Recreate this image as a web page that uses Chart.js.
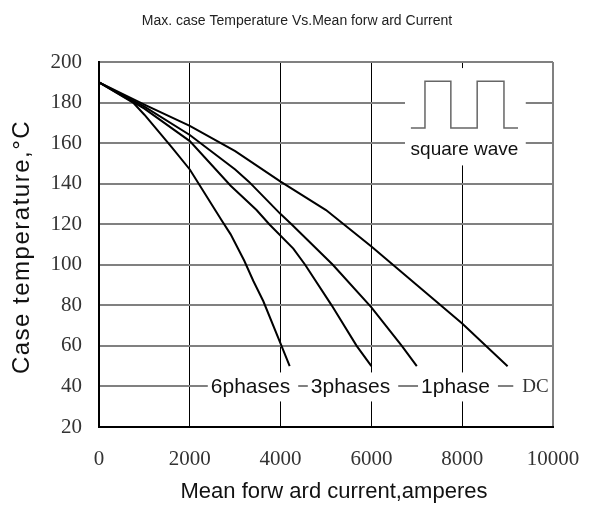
<!doctype html>
<html lang="en">
<head>
  <meta charset="utf-8">
  <title>Max. case Temperature Vs. Mean forward Current</title>
  <script src="https://cdn.jsdelivr.net/npm/chart.js@4"></script>
  <style>
    body { margin: 0; background: #fff; }
  </style>
</head>
<body>
  <canvas id="tempChart" width="595" height="509"></canvas>

  <script>
    // Curve data: mean forward current (A) vs max case temperature (C)
    var xDC  = [0, 1000, 2000, 3000, 4000, 5000, 6000, 7000, 8000, 9000];
    var tDC  = [190, 179, 168.5, 156, 141, 127, 109, 90, 71, 50];

    var x1ph = [0, 1000, 2000, 3000, 3300, 4000, 4240, 5150, 6000, 6670, 7000];
    var t1ph = [190, 178, 164, 147, 141, 125, 120, 100, 79, 60, 50];

    var x3ph = [0, 1000, 2000, 2900, 3470, 3750, 4280, 4540, 5125, 5675, 6000];
    var t3ph = [190, 177, 161, 139, 127, 120, 108, 100, 80, 60, 50];

    var x6ph = [0, 750, 1000, 1600, 2000, 2700, 2900, 3200, 3400, 3620, 4020, 4200];
    var t6ph = [190, 180, 174, 158, 147, 122, 115, 102, 92, 82, 60, 50];

    // square wave symbol in the top right corner
    var xWave = [6870, 7180, 7180, 7750, 7750, 8330, 8330, 8920, 8920, 9230];
    var tWave = [167.5, 167.5, 190.5, 190.5, 167.5, 167.5, 190.5, 190.5, 167.5, 167.5];

    // curve labels along the 40 C line
    var labelText = ['6phases', '3phases', '1phase', 'DC'];
    var labelX = [3337, 5540, 7852, 9614];
    var labelY = 40;

    var xTicks = [0, 2000, 4000, 6000, 8000, 10000];
    var yTicks = [20, 40, 60, 80, 100, 120, 140, 160, 180, 200];

    function toPoints(xs, ys) {
      var pts = [];
      for (var i = 0; i < xs.length; i++) pts.push({ x: xs[i], y: ys[i] });
      return pts;
    }

    function curve(label, xs, ys, color, width) {
      return {
        label: label,
        data: toPoints(xs, ys),
        showLine: true,
        borderColor: color,
        borderWidth: width,
        pointRadius: 0,
        tension: 0,
        fill: false
      };
    }

    // white patches over the grid, the labels and the titles
    var notesPlugin = {
      id: 'notes',
      beforeDatasetsDraw: function(chart) {
        var ctx = chart.ctx;
        var xs = chart.scales.x, ys = chart.scales.y;
        ctx.save();
        ctx.fillStyle = '#fff';

        // box behind the square wave
        var bx0 = xs.getPixelForValue(6740), bx1 = xs.getPixelForValue(9400);
        var by0 = ys.getPixelForValue(197), by1 = ys.getPixelForValue(149);
        ctx.fillRect(bx0, by0, bx1 - bx0, by1 - by0);

        // boxes behind the curve names
        var yc = ys.getPixelForValue(labelY) + 1;
        for (var i = 0; i < labelText.length; i++) {
          var isDC = labelText[i] == 'DC';
          ctx.font = isDC ? '19px "Liberation Serif", serif' : '21px "Liberation Sans", Arial, sans-serif';
          var w = ctx.measureText(labelText[i]).width;
          var cx = xs.getPixelForValue(labelX[i]);
          var left = cx - w / 2 - (isDC ? 9 : 3);
          var right = isDC ? chart.chartArea.right - 1 : cx + w / 2 + 8;
          ctx.fillRect(left, yc - 15, right - left, 29);
        }
        ctx.restore();
      },
      afterDatasetsDraw: function(chart) {
        var ctx = chart.ctx;
        var xs = chart.scales.x, ys = chart.scales.y;
        ctx.save();
        ctx.textAlign = 'center';
        ctx.textBaseline = 'middle';

        var yc = ys.getPixelForValue(labelY) + 1;
        for (var i = 0; i < labelText.length; i++) {
          if (labelText[i] == 'DC') {
            ctx.font = '19px "Liberation Serif", serif';
            ctx.fillStyle = '#333';
          } else {
            ctx.font = '21px "Liberation Sans", Arial, sans-serif';
            ctx.fillStyle = '#111';
          }
          ctx.fillText(labelText[i], xs.getPixelForValue(labelX[i]), yc);
        }

        ctx.fillStyle = '#111';
        ctx.font = '19px "Liberation Sans", Arial, sans-serif';
        ctx.fillText('square wave', xs.getPixelForValue(8050), ys.getPixelForValue(156.5));

        ctx.fillStyle = '#222';
        ctx.font = '14px "Liberation Sans", Arial, sans-serif';
        ctx.fillText('Max. case Temperature Vs.Mean forw ard Current', 297, 21);

        // x axis title sits a little right of the plot centre
        ctx.fillStyle = '#111';
        ctx.font = '22px "Liberation Sans", Arial, sans-serif';
        ctx.fillText('Mean forw ard current,amperes', 334, 492);

        // y axis title
        ctx.save();
        ctx.font = '24px "Liberation Sans", Arial, sans-serif';
        ctx.translate(22, 248);
        ctx.rotate(-Math.PI / 2);
        ctx.letterSpacing = '1.5px';
        ctx.fillText('Case temperature,°C', 1, 0);
        ctx.restore();

        ctx.restore();
      }
    };

    var chart = new Chart(document.getElementById('tempChart'), {
      type: 'scatter',
      data: {
        datasets: [
          curve('DC', xDC, tDC, '#000', 2),
          curve('1phase', x1ph, t1ph, '#000', 2),
          curve('3phases', x3ph, t3ph, '#000', 2),
          curve('6phases', x6ph, t6ph, '#000', 2),
          curve('square wave', xWave, tWave, '#666', 1.5)
        ]
      },
      options: {
        responsive: false,
        animation: false,
        layout: { padding: { top: 62, right: 42, left: 0, bottom: 0 } },
        plugins: {
          legend: { display: false },
          tooltip: { enabled: false }
        },
        scales: {
          x: {
            type: 'linear',
            min: 0,
            max: 10000,
            afterBuildTicks: function(scale) {
              scale.ticks = xTicks.map(function(v) { return { value: v }; });
            },
            afterFit: function(scale) {
              scale.height = 82;
              scale.paddingLeft = 0;
              scale.paddingRight = 0;
            },
            ticks: {
              padding: 20,
              color: '#333',
              font: { family: '"Liberation Serif", serif', size: 21 },
              callback: function(v) { return String(v); }
            },
            grid: {
              drawTicks: false,
              color: function(c) { return c.tick && c.tick.value == 10000 ? '#808080' : '#000'; },
              lineWidth: function(c) { return c.tick && c.tick.value == 10000 ? 2 : 1; }
            },
            border: { color: '#000', width: 2 }
          },
          y: {
            min: 20,
            max: 200,
            afterBuildTicks: function(scale) {
              scale.ticks = yTicks.map(function(v) { return { value: v }; });
            },
            afterFit: function(scale) {
              scale.width = 99;
              scale.paddingTop = 0;
              scale.paddingBottom = 0;
            },
            ticks: {
              padding: 17,
              color: '#333',
              font: { family: '"Liberation Serif", serif', size: 21 },
              callback: function(v) { return String(v); }
            },
            grid: {
              drawTicks: false,
              color: '#808080',
              lineWidth: 2
            },
            border: { color: '#000', width: 2 }
          }
        }
      },
      plugins: [notesPlugin]
    });
  </script>
</body>
</html>
